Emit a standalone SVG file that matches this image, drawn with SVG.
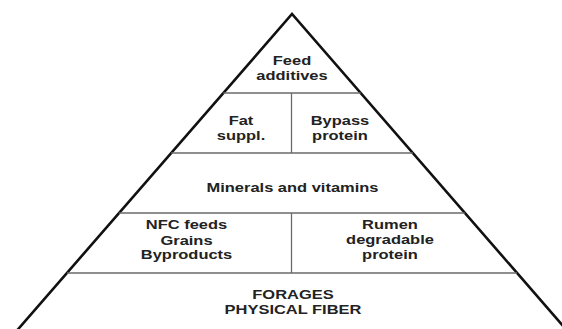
<svg xmlns="http://www.w3.org/2000/svg" width="562" height="329" viewBox="0 0 562 329">
  <style>
    .outline { fill: none; stroke: #111; stroke-width: 2.6; stroke-linejoin: miter; }
    .div { fill: none; stroke: #6a6a6a; stroke-width: 1.3; }
    .lbl { font-family: "Liberation Sans", Arial, sans-serif; font-weight: bold; font-size: 13.5px; fill: #222; text-anchor: middle; }
  </style>
  <rect width="562" height="329" fill="#fff"/>
  <g id="pyramid">
    <polyline class="outline" points="14.8,333 292,14 569.2,333"/>
  </g>
  <g id="connectors">
    <line class="div" x1="223.3" y1="93" x2="360.7" y2="93"/>
    <line class="div" x1="171.2" y1="153" x2="412.8" y2="153"/>
    <line class="div" x1="119.1" y1="213" x2="464.9" y2="213"/>
    <line class="div" x1="67" y1="273" x2="517" y2="273"/>
    <line class="div" x1="291.5" y1="93" x2="291.5" y2="153"/>
    <line class="div" x1="291.5" y1="213" x2="291.5" y2="273"/>
  </g>
  <g id="feed-additives">
    <text class="lbl" transform="translate(292 65) scale(1.22 1)">Feed</text>
    <text class="lbl" transform="translate(292 80) scale(1.22 1)">additives</text>
  </g>
  <g id="fat-suppl">
    <text class="lbl" transform="translate(241 124.5) scale(1.22 1)">Fat</text>
    <text class="lbl" transform="translate(241 139.5) scale(1.22 1)">suppl.</text>
  </g>
  <g id="bypass-protein">
    <text class="lbl" transform="translate(340 124.5) scale(1.22 1)">Bypass</text>
    <text class="lbl" transform="translate(340 139.5) scale(1.22 1)">protein</text>
  </g>
  <g id="minerals-vitamins">
    <text class="lbl" transform="translate(292.5 191.5) scale(1.22 1)">Minerals and vitamins</text>
  </g>
  <g id="nfc-feeds">
    <text class="lbl" transform="translate(186.5 229) scale(1.22 1)">NFC feeds</text>
    <text class="lbl" transform="translate(186.5 244.5) scale(1.22 1)">Grains</text>
    <text class="lbl" transform="translate(186.5 259) scale(1.22 1)">Byproducts</text>
  </g>
  <g id="rumen-degradable">
    <text class="lbl" transform="translate(390 229) scale(1.22 1)">Rumen</text>
    <text class="lbl" transform="translate(390 244) scale(1.22 1)">degradable</text>
    <text class="lbl" transform="translate(390 258.5) scale(1.22 1)">protein</text>
  </g>
  <g id="forages">
    <text class="lbl" transform="translate(293 298.5) scale(1.22 1)">FORAGES</text>
    <text class="lbl" transform="translate(293 313.5) scale(1.22 1)">PHYSICAL FIBER</text>
  </g>
</svg>
